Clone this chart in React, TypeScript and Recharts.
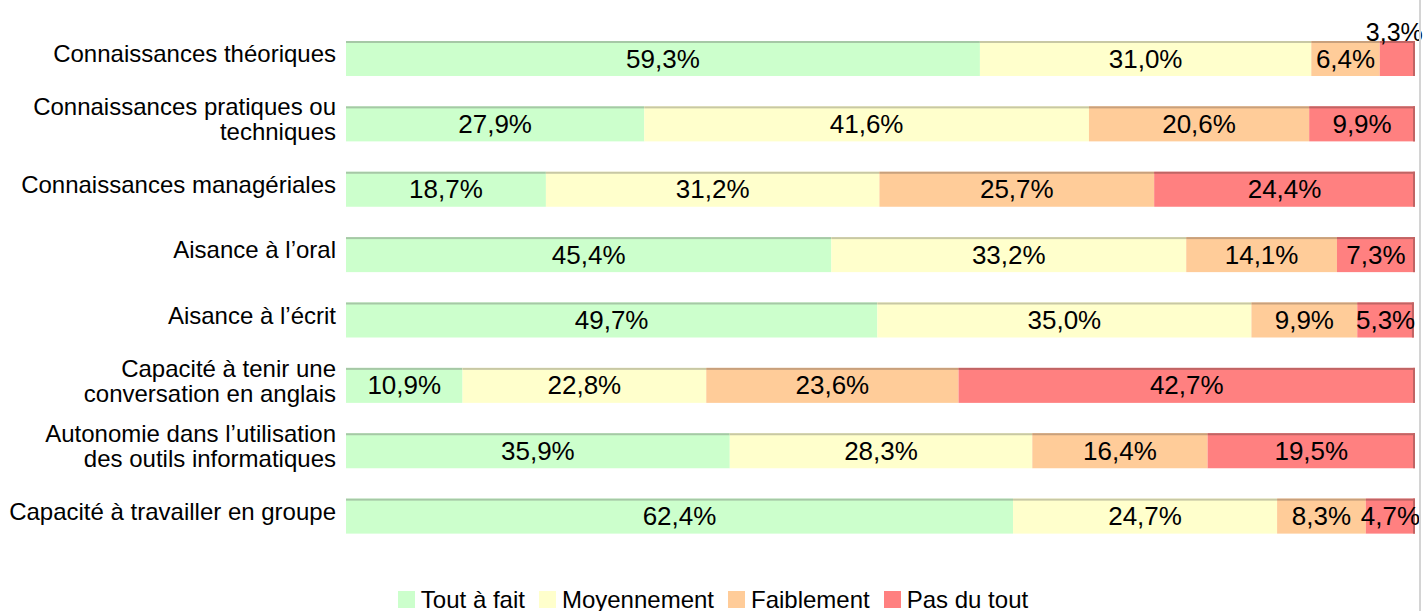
import { BarChart, Bar, XAxis, YAxis, Legend, LabelList } from "recharts";

const categories = [
  "Connaissances théoriques",
  "Connaissances pratiques ou\ntechniques",
  "Connaissances managériales",
  "Aisance à l’oral",
  "Aisance à l’écrit",
  "Capacité à tenir une\nconversation en anglais",
  "Autonomie dans l’utilisation\ndes outils informatiques",
  "Capacité à travailler en groupe",
];

const toutAFait = [59.3, 27.9, 18.7, 45.4, 49.7, 10.9, 35.9, 62.4];
const moyennement = [31.0, 41.6, 31.2, 33.2, 35.0, 22.8, 28.3, 24.7];
const faiblement = [6.4, 20.6, 25.7, 14.1, 9.9, 23.6, 16.4, 8.3];
const pasDuTout = [3.3, 9.9, 24.4, 7.3, 5.3, 42.7, 19.5, 4.7];

const series = [
  { key: "toutAFait", name: "Tout à fait", fill: "#CCFFCC", edge: "#A6C8A6" },
  { key: "moyennement", name: "Moyennement", fill: "#FFFFCC", edge: "#C8C8A4" },
  { key: "faiblement", name: "Faiblement", fill: "#FFCC99", edge: "#C8A07C" },
  { key: "pasDuTout", name: "Pas du tout", fill: "#FF8080", edge: "#C06464" },
];

const data = categories.map((name, i) => ({
  name,
  toutAFait: toutAFait[i],
  moyennement: moyennement[i],
  faiblement: faiblement[i],
  pasDuTout: pasDuTout[i],
}));

const FONT = "'Liberation Sans', Arial, sans-serif";
const fmt = (v: number) => v.toFixed(1).replace(".", ",") + "%";

function makeShape(fill: string, edge: string, last: boolean) {
  return (props: any) => {
    const { x, y, width, height } = props;
    if (!width || width <= 0) return <g />;
    return (
      <g>
        <rect x={x} y={y} width={width} height={height} fill={fill} />
        <rect x={x} y={y} width={width} height={2} fill={edge} />
        {last && <rect x={x + width - 2} y={y} width={2} height={height} fill={edge} />}
      </g>
    );
  };
}

function ValueLabel(props: any) {
  const { x, y, width, height, value } = props;
  const cx = x + width / 2;
  const small = width < 40;
  return (
    <text
      x={small ? cx - 3 : cx}
      y={small ? y - 9 : y + height / 2}
      textAnchor="middle"
      dominantBaseline="central"
      fontFamily={FONT}
      fontSize={small ? 25 : 26}
      fill="#000"
    >
      {fmt(value)}
    </text>
  );
}

function CategoryTick(props: any) {
  const { x, y, payload } = props;
  const lines = String(payload.value).split("\n");
  const lh = 25;
  const start = y - 5 - ((lines.length - 1) * lh) / 2;
  return (
    <text x={x - 2} textAnchor="end" fontFamily={FONT} fontSize={24} fill="#000">
      {lines.map((l, i) => (
        <tspan key={i} x={x - 2} y={start + i * lh} dominantBaseline="central">
          {l}
        </tspan>
      ))}
    </text>
  );
}

function LegendContent() {
  return (
    <div
      style={{
        height: 25,
        display: "flex",
        justifyContent: "center",
        alignItems: "center",
        fontFamily: FONT,
        fontSize: 24,
        color: "#000",
      }}
    >
      {series.map((s) => (
        <div key={s.key} style={{ display: "flex", alignItems: "center", margin: "0 7px" }}>
          <span style={{ width: 17, height: 17, background: s.fill, marginRight: 6, display: "inline-block" }} />
          <span>{s.name}</span>
        </div>
      ))}
    </div>
  );
}

export default function App() {
  return (
    <div style={{ position: "absolute", left: 0, top: 0, width: 1426, height: 611, background: "#fff", overflow: "hidden" }}>
      <BarChart
        width={1426}
        height={611}
        data={data}
        layout="vertical"
        margin={{ top: 26, right: 11, bottom: 37, left: 0 }}
        barSize={35}
      >
        <XAxis type="number" domain={[0, 100]} allowDataOverflow hide />
        <YAxis
          type="category"
          dataKey="name"
          width={346}
          axisLine={false}
          tickLine={false}
          tick={<CategoryTick />}
          interval={0}
        />
        <Legend
          verticalAlign="bottom"
          content={<LegendContent />}
          wrapperStyle={{ top: 587, left: 0, width: 1426 }}
        />
        {series.map((s, idx) => (
          <Bar
            key={s.key}
            dataKey={s.key}
            name={s.name}
            stackId="a"
            fill={s.fill}
            shape={makeShape(s.fill, s.edge, idx === series.length - 1)}
            isAnimationActive={false}
          >
            <LabelList dataKey={s.key} content={<ValueLabel />} />
          </Bar>
        ))}
      </BarChart>
      <div style={{ position: "absolute", left: 1419, top: 0, width: 2, height: 611, background: "#D4D4D4" }} />
    </div>
  );
}
